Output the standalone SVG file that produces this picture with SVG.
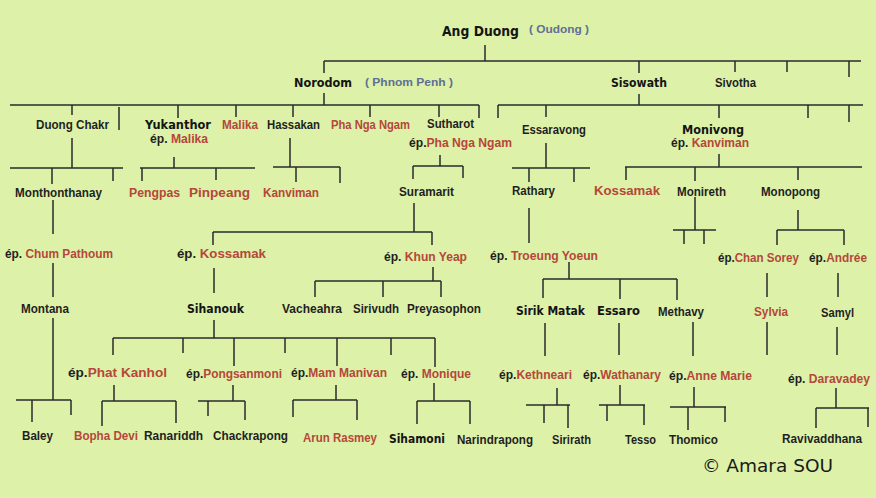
<svg xmlns="http://www.w3.org/2000/svg" width="876" height="498" viewBox="0 0 876 498">
<style>
.t{font-family:"Liberation Sans",Arial,sans-serif;font-weight:bold;font-size:12.5px;fill:#1f1f1f}
.b{font-family:"DejaVu Sans","Liberation Sans",sans-serif;font-size:12.5px;fill:#141414}
.big{font-size:14px}
.r{fill:#b5473a}
.p{font-size:11px;fill:#5f6f96}
.cp{font-family:"DejaVu Sans",sans-serif;font-size:17px;fill:#1a1a1a}
.c path{fill:none;stroke:#2b2b2b;stroke-width:1.5}
</style>
<rect width="876" height="498" fill="#ddf1a8"/>
<g id="connectors" class="c">
<path d="M485 45V61M324 61H861M324 61V73M639 61V73M735 61V72M787 61V72M849 61V77"/>
<path d="M324 93V105M10 105H479M72 105V115M119 107V130M178 105V118M236 105V117M293 105V117M370 105V117M439 105V117M479 105V118"/>
<path d="M639 94V105M498 105H863M498 105V118M546 105V117M719 105V118M808 105V118M849 105V122"/>
<path d="M72 138V168M10 168H123M52 168V184M113 168V181"/>
<path d="M174 157V168M140 168H255M142 168V181M216 168V180"/>
<path d="M290 138V167M273 167H340M296 167V182M340 167V183"/>
<path d="M440 155V166M413 166H463M413 166V179M463 166V178"/>
<path d="M546 143V168M512 168H590M529 168V182M574 168V182"/>
<path d="M719 154V167M625 167H862M626 167V180M695 167V181M798 167V180"/>
<path d="M53 200V234M53 263V297"/>
<path d="M414 203V232M213 232H432M213 232V245M432 232V245"/>
<path d="M214 268V293"/>
<path d="M433 267V281M315 281H441M315 281V297M383 281V297M441 281V297"/>
<path d="M529 208V243"/>
<path d="M569 262V279M543 279H677M543 279V298M620 279V299M677 279V300"/>
<path d="M695 197V230M673 230H716M684 230V244M704 230V244"/>
<path d="M798 210V230M777 230H844M777 230V245M844 230V245"/>
<path d="M767 273V297M838 273V297"/>
<path d="M214 320V338M113 338H435M113 338V355M183 338V353M234 338V366M285 338V353M337 338V366M391 338V355M435 338V367"/>
<path d="M53 318V400M16 400H71M32 400V422M71 400V415"/>
<path d="M114 385V401M102 401H176M102 401V426M176 401V423"/>
<path d="M233 385V401M198 401H245M208 401V416M245 401V420"/>
<path d="M336 385V400M293 400H357M293 400V417M357 400V420"/>
<path d="M434 383V401M417 401H470M417 401V424M470 401V424"/>
<path d="M545 323V356M557 388V405M526 405H570M544 405V423M568 405V428"/>
<path d="M619 323V355M620 385V405M599 405H645M607 405V421M644 405V425"/>
<path d="M693 322V356M694 387V407M670 407H726M688 407V430M725 407V422"/>
<path d="M767 322V355M837 327V355"/>
<path d="M836 388V408M816 408H869M816 408V428M868 408V427"/>
</g>
<g id="n-angduong"><text class="t b big" x="442" y="36" textLength="77" lengthAdjust="spacingAndGlyphs">Ang Duong</text><text class="t p" x="529" y="33" textLength="60" lengthAdjust="spacingAndGlyphs">( Oudong )</text></g>
<g id="n-norodom"><text class="t b" x="294" y="87" textLength="58" lengthAdjust="spacingAndGlyphs">Norodom</text><text class="t p" x="365" y="86" textLength="88" lengthAdjust="spacingAndGlyphs">( Phnom Penh )</text></g>
<g id="n-sisowath"><text class="t b" x="611" y="87" textLength="56" lengthAdjust="spacingAndGlyphs">Sisowath</text></g>
<g id="n-sivotha"><text class="t" x="715" y="87" textLength="41" lengthAdjust="spacingAndGlyphs">Sivotha</text></g>
<g id="n-duongchakr"><text class="t" x="36" y="129" textLength="73" lengthAdjust="spacingAndGlyphs">Duong Chakr</text></g>
<g id="n-yukanthor"><text class="t b" x="145" y="129" textLength="66" lengthAdjust="spacingAndGlyphs">Yukanthor</text><text class="t" x="150" y="143" textLength="58" lengthAdjust="spacingAndGlyphs">ép. <tspan class="r">Malika</tspan></text></g>
<g id="n-malika"><text class="t r" x="222" y="129" textLength="36" lengthAdjust="spacingAndGlyphs">Malika</text></g>
<g id="n-hassakan"><text class="t" x="267" y="129" textLength="53" lengthAdjust="spacingAndGlyphs">Hassakan</text></g>
<g id="n-phangangam"><text class="t r" x="331" y="129" textLength="79" lengthAdjust="spacingAndGlyphs">Pha Nga Ngam</text></g>
<g id="n-sutharot"><text class="t" x="427" y="128" textLength="47" lengthAdjust="spacingAndGlyphs">Sutharot</text><text class="t" x="409" y="147" textLength="103" lengthAdjust="spacingAndGlyphs">ép.<tspan class="r">Pha Nga Ngam</tspan></text></g>
<g id="n-essaravong"><text class="t" x="522" y="134" textLength="64" lengthAdjust="spacingAndGlyphs">Essaravong</text></g>
<g id="n-monivong"><text class="t b" x="682" y="134" textLength="62" lengthAdjust="spacingAndGlyphs">Monivong</text><text class="t" x="671" y="147" textLength="78" lengthAdjust="spacingAndGlyphs">ép. <tspan class="r">Kanviman</tspan></text></g>
<g id="n-monthonthanay"><text class="t" x="15" y="197" textLength="87" lengthAdjust="spacingAndGlyphs">Monthonthanay</text></g>
<g id="n-pengpas"><text class="t r" x="129" y="197" textLength="51" lengthAdjust="spacingAndGlyphs">Pengpas</text></g>
<g id="n-pinpeang"><text class="t r" x="189" y="197" textLength="61" lengthAdjust="spacingAndGlyphs">Pinpeang</text></g>
<g id="n-kanviman"><text class="t r" x="263" y="197" textLength="56" lengthAdjust="spacingAndGlyphs">Kanviman</text></g>
<g id="n-suramarit"><text class="t" x="399" y="196" textLength="55" lengthAdjust="spacingAndGlyphs">Suramarit</text></g>
<g id="n-rathary"><text class="t" x="512" y="195" textLength="43" lengthAdjust="spacingAndGlyphs">Rathary</text></g>
<g id="n-kossamak"><text class="t r" x="594" y="195" textLength="66" lengthAdjust="spacingAndGlyphs">Kossamak</text></g>
<g id="n-monireth"><text class="t" x="677" y="196" textLength="49" lengthAdjust="spacingAndGlyphs">Monireth</text></g>
<g id="n-monopong"><text class="t" x="761" y="196" textLength="59" lengthAdjust="spacingAndGlyphs">Monopong</text></g>
<g id="n-chumpathoum"><text class="t" x="5" y="258" textLength="108" lengthAdjust="spacingAndGlyphs">ép. <tspan class="r">Chum Pathoum</tspan></text></g>
<g id="n-epkossamak"><text class="t" x="177" y="258" textLength="89" lengthAdjust="spacingAndGlyphs">ép. <tspan class="r">Kossamak</tspan></text></g>
<g id="n-khunyeap"><text class="t" x="384" y="261" textLength="83" lengthAdjust="spacingAndGlyphs">ép. <tspan class="r">Khun Yeap</tspan></text></g>
<g id="n-troeungyoeun"><text class="t" x="490" y="260" textLength="108" lengthAdjust="spacingAndGlyphs">ép. <tspan class="r">Troeung Yoeun</tspan></text></g>
<g id="n-chansorey"><text class="t" x="718" y="262" textLength="81" lengthAdjust="spacingAndGlyphs">ép.<tspan class="r">Chan Sorey</tspan></text></g>
<g id="n-andree"><text class="t" x="809" y="262" textLength="58" lengthAdjust="spacingAndGlyphs">ép.<tspan class="r">Andrée</tspan></text></g>
<g id="n-montana"><text class="t" x="21" y="313" textLength="48" lengthAdjust="spacingAndGlyphs">Montana</text></g>
<g id="n-sihanouk"><text class="t b" x="187" y="313" textLength="57" lengthAdjust="spacingAndGlyphs">Sihanouk</text></g>
<g id="n-vacheahra"><text class="t" x="282" y="313" textLength="60" lengthAdjust="spacingAndGlyphs">Vacheahra</text></g>
<g id="n-sirivudh"><text class="t" x="353" y="313" textLength="46" lengthAdjust="spacingAndGlyphs">Sirivudh</text></g>
<g id="n-preyasophon"><text class="t" x="407" y="313" textLength="74" lengthAdjust="spacingAndGlyphs">Preyasophon</text></g>
<g id="n-sirikmatak"><text class="t b" x="516" y="315" textLength="69" lengthAdjust="spacingAndGlyphs">Sirik Matak</text></g>
<g id="n-essaro"><text class="t b" x="597" y="315" textLength="43" lengthAdjust="spacingAndGlyphs">Essaro</text></g>
<g id="n-methavy"><text class="t" x="658" y="316" textLength="46" lengthAdjust="spacingAndGlyphs">Methavy</text></g>
<g id="n-sylvia"><text class="t r" x="754" y="316" textLength="34" lengthAdjust="spacingAndGlyphs">Sylvia</text></g>
<g id="n-samyl"><text class="t" x="821" y="317" textLength="33" lengthAdjust="spacingAndGlyphs">Samyl</text></g>
<g id="n-phatkanhol"><text class="t" x="68" y="377" textLength="99" lengthAdjust="spacingAndGlyphs">ép.<tspan class="r">Phat Kanhol</tspan></text></g>
<g id="n-pongsanmoni"><text class="t" x="186" y="378" textLength="96" lengthAdjust="spacingAndGlyphs">ép.<tspan class="r">Pongsanmoni</tspan></text></g>
<g id="n-mammanivan"><text class="t" x="291" y="377" textLength="96" lengthAdjust="spacingAndGlyphs">ép.<tspan class="r">Mam Manivan</tspan></text></g>
<g id="n-monique"><text class="t" x="401" y="378" textLength="70" lengthAdjust="spacingAndGlyphs">ép. <tspan class="r">Monique</tspan></text></g>
<g id="n-kethneari"><text class="t" x="499" y="379" textLength="73" lengthAdjust="spacingAndGlyphs">ép.<tspan class="r">Kethneari</tspan></text></g>
<g id="n-wathanary"><text class="t" x="583" y="379" textLength="78" lengthAdjust="spacingAndGlyphs">ép.<tspan class="r">Wathanary</tspan></text></g>
<g id="n-annemarie"><text class="t" x="669" y="380" textLength="83" lengthAdjust="spacingAndGlyphs">ép.<tspan class="r">Anne Marie</tspan></text></g>
<g id="n-daravadey"><text class="t" x="788" y="383" textLength="82" lengthAdjust="spacingAndGlyphs">ép. <tspan class="r">Daravadey</tspan></text></g>
<g id="n-baley"><text class="t" x="22" y="440" textLength="31" lengthAdjust="spacingAndGlyphs">Baley</text></g>
<g id="n-bophadevi"><text class="t r" x="74" y="440" textLength="64" lengthAdjust="spacingAndGlyphs">Bopha Devi</text></g>
<g id="n-ranariddh"><text class="t" x="144" y="440" textLength="59" lengthAdjust="spacingAndGlyphs">Ranariddh</text></g>
<g id="n-chackrapong"><text class="t" x="213" y="440" textLength="75" lengthAdjust="spacingAndGlyphs">Chackrapong</text></g>
<g id="n-arunrasmey"><text class="t r" x="303" y="442" textLength="74" lengthAdjust="spacingAndGlyphs">Arun Rasmey</text></g>
<g id="n-sihamoni"><text class="t b" x="389" y="443" textLength="56" lengthAdjust="spacingAndGlyphs">Sihamoni</text></g>
<g id="n-narindrapong"><text class="t" x="457" y="444" textLength="76" lengthAdjust="spacingAndGlyphs">Narindrapong</text></g>
<g id="n-sirirath"><text class="t" x="552" y="444" textLength="39" lengthAdjust="spacingAndGlyphs">Sirirath</text></g>
<g id="n-tesso"><text class="t" x="625" y="444" textLength="31" lengthAdjust="spacingAndGlyphs">Tesso</text></g>
<g id="n-thomico"><text class="t" x="669" y="444" textLength="49" lengthAdjust="spacingAndGlyphs">Thomico</text></g>
<g id="n-ravivaddhana"><text class="t" x="782" y="443" textLength="80" lengthAdjust="spacingAndGlyphs">Ravivaddhana</text></g>
<g id="credit"><text class="cp" x="702" y="472" textLength="131" lengthAdjust="spacingAndGlyphs">© Amara SOU</text></g>
</svg>
